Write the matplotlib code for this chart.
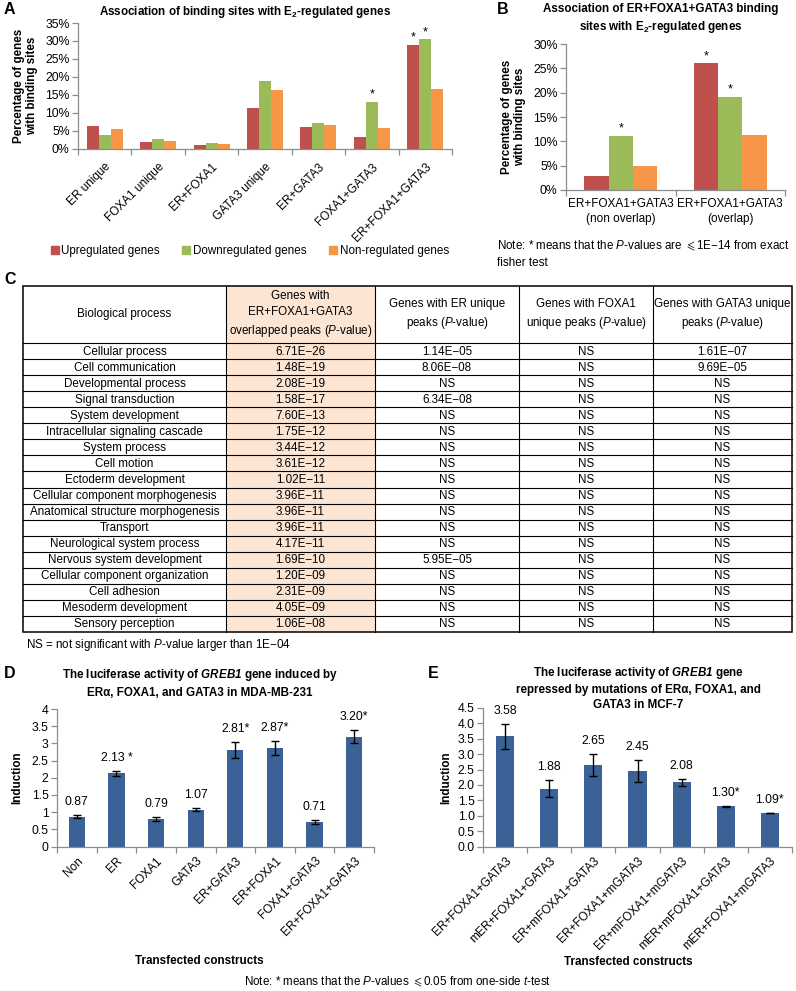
import numpy as np
import matplotlib
matplotlib.use('Agg')
import matplotlib.pyplot as plt
from matplotlib.patches import Rectangle
from matplotlib.lines import Line2D
from matplotlib.ticker import FixedLocator, NullFormatter

W, H = 796, 991
plt.rcParams['font.family'] = ['Liberation Sans', 'DejaVu Sans']
plt.rcParams['mathtext.fontset'] = 'custom'
plt.rcParams['mathtext.rm'] = 'Liberation Sans'
plt.rcParams['mathtext.it'] = 'Liberation Sans:italic'
plt.rcParams['mathtext.bf'] = 'Liberation Sans:bold'
plt.rcParams['mathtext.bfit'] = 'Liberation Sans:italic:bold'
plt.rcParams['mathtext.fallback'] = 'stixsans'

# ---- panel A data (percent)
a_groups = ['ER unique', 'FOXA1 unique', 'ER+FOXA1', 'GATA3 unique', 'ER+GATA3',
            'FOXA1+GATA3', 'ER+FOXA1+GATA3']
a_up = [6.2, 1.7, 0.9, 11.4, 6.0, 3.2, 29.0]
a_down = [3.7, 2.6, 1.6, 18.7, 7.2, 13.0, 30.4]
a_non = [5.4, 2.2, 1.3, 16.4, 6.5, 5.8, 16.5]
a_star_up = [False, False, False, False, False, False, True]
a_star_down = [False, False, False, False, False, True, True]

# ---- panel B data
b_groups = ['ER+FOXA1+GATA3\n(non overlap)', 'ER+FOXA1+GATA3\n(overlap)']
b_up = [2.8, 26.0]
b_down = [11.1, 19.1]
b_non = [5.0, 11.3]
b_star_up = [False, True]
b_star_down = [True, True]

# ---- panel C table
c_header = ['Biological process',
            'Genes with\nER+FOXA1+GATA3\noverlapped peaks ($P$-value)',
            'Genes with ER unique\npeaks ($P$-value)',
            'Genes with FOXA1\nunique peaks ($P$-value)',
            'Genes with GATA3 unique\npeaks ($P$-value)']
c_process = ['Cellular process', 'Cell communication', 'Developmental process',
             'Signal transduction', 'System development', 'Intracellular signaling cascade',
             'System process', 'Cell motion', 'Ectoderm development',
             'Cellular component morphogenesis', 'Anatomical structure morphogenesis',
             'Transport', 'Neurological system process', 'Nervous system development',
             'Cellular component organization', 'Cell adhesion', 'Mesoderm development',
             'Sensory perception']
c_overlap = ['6.71E\u221226', '1.48E\u221219', '2.08E\u221219', '1.58E\u221217', '7.60E\u221213',
             '1.75E\u221212', '3.44E\u221212', '3.61E\u221212', '1.02E\u221211', '3.96E\u221211',
             '3.96E\u221211', '3.96E\u221211', '4.17E\u221211', '1.69E\u221210', '1.20E\u221209',
             '2.31E\u221209', '4.05E\u221209', '1.06E\u221208']
c_er = ['1.14E\u221205', '8.06E\u221208', 'NS', '6.34E\u221208', 'NS', 'NS', 'NS', 'NS', 'NS',
        'NS', 'NS', 'NS', 'NS', '5.95E\u221205', 'NS', 'NS', 'NS', 'NS']
c_foxa1 = ['NS', 'NS', 'NS', 'NS', 'NS', 'NS', 'NS', 'NS', 'NS',
           'NS', 'NS', 'NS', 'NS', 'NS', 'NS', 'NS', 'NS', 'NS']
c_gata3 = ['1.61E\u221207', '9.69E\u221205', 'NS', 'NS', 'NS', 'NS', 'NS', 'NS', 'NS',
           'NS', 'NS', 'NS', 'NS', 'NS', 'NS', 'NS', 'NS', 'NS']

# ---- panel D data
d_labels = ['Non', 'ER', 'FOXA1', 'GATA3', 'ER+GATA3', 'ER+FOXA1', 'FOXA1+GATA3', 'ER+FOXA1+GATA3']
d_vals = [0.87, 2.13, 0.79, 1.07, 2.81, 2.87, 0.71, 3.20]
d_err = [0.04, 0.08, 0.06, 0.04, 0.23, 0.21, 0.06, 0.18]
d_text = ['0.87', '2.13 *', '0.79', '1.07', '2.81*', '2.87*', '0.71', '3.20*']

# ---- panel E data
e_labels = ['ER+FOXA1+GATA3', 'mER+FOXA1+GATA3', 'ER+mFOXA1+GATA3', 'ER+FOXA1+mGATA3',
            'ER+mFOXA1+mGATA3', 'mER+mFOXA1+GATA3', 'mER+FOXA1+mGATA3']
e_vals = [3.58, 1.88, 2.65, 2.45, 2.08, 1.30, 1.09]
e_err = [0.40, 0.27, 0.37, 0.35, 0.12, 0.02, 0.01]
e_text = ['3.58', '1.88', '2.65', '2.45', '2.08', '1.30*', '1.09*']

RED, GREEN, ORANGE, BLUE = '#C0504D', '#9BBB59', '#F79646', '#3A6296'
AXC = '#8C8C8C'
FS = 8.4   # general text
TS = 8.8   # y tick labels
CS = 8.5   # category labels

fig = plt.figure(figsize=(W / 100, H / 100), dpi=100)

ov = fig.add_axes([0, 0, 1, 1])
ov.set_xlim(0, W)
ov.set_ylim(H, 0)
ov.axis('off')


def px_axes(x0, y0, x1, y1):
    return fig.add_axes([x0 / W, 1 - y1 / H, (x1 - x0) / W, (y1 - y0) / H])


def excel_style(ax, n):
    for s in ['top', 'right']:
        ax.spines[s].set_visible(False)
    for s in ['left', 'bottom']:
        ax.spines[s].set_color(AXC)
        ax.spines[s].set_linewidth(0.9)
    ax.set_xlim(-0.5, n - 0.5)
    ax.xaxis.set_minor_locator(FixedLocator(np.arange(n + 1) - 0.5))
    ax.xaxis.set_minor_formatter(NullFormatter())
    ax.tick_params(axis='x', which='major', length=0, labelsize=CS)
    ax.tick_params(axis='x', which='minor', length=4, color=AXC, width=0.9)
    ax.tick_params(axis='y', length=4, color=AXC, width=0.9, labelsize=TS, pad=2)


def grouped(ax, series, colors, stars, w):
    x = np.arange(len(series[0]))
    for k, (vals, c) in enumerate(zip(series, colors)):
        xs = x + (k - 1) * w
        ax.bar(xs, vals, width=w, color=c, zorder=2)
        for xi, v, s in zip(xs, vals, stars[k]):
            if s:
                ax.annotate('*', (xi, v), xytext=(0, 1), textcoords='offset points',
                            ha='center', va='bottom', fontsize=9)


pct = lambda v, p: '%d%%' % v

# ---------------- A
axA = px_axes(78, 23, 452, 148.5)
excel_style(axA, len(a_groups))
grouped(axA, [a_up, a_down, a_non], [RED, GREEN, ORANGE],
        [a_star_up, a_star_down, [False] * 7], 0.225)
axA.set_ylim(0, 35)
axA.set_yticks(np.arange(0, 36, 5))
axA.yaxis.set_major_formatter(pct)
axA.set_xticks(np.arange(len(a_groups)))
axA.set_xticklabels(a_groups, rotation=45, ha='right', rotation_mode='anchor', fontsize=CS)
axA.tick_params(axis='x', which='major', pad=9)
axA.set_ylabel('Percentage of genes\nwith binding sites', fontsize=FS, fontweight='bold',
               labelpad=5, linespacing=1.1)
ov.text(245, 12, r'Association of binding sites with E$_{\mathbf{2}}$-regulated genes',
        ha='center', va='center', fontsize=FS, fontweight='bold')
ov.text(4, 9, 'A', fontsize=11.5, fontweight='bold', va='center')
handles = [Line2D([], [], marker='s', ls='none', color=c, markersize=5.5) for c in (RED, GREEN, ORANGE)]
fig.legend(handles, ['Upregulated genes', 'Downregulated genes', 'Non-regulated genes'],
           loc='center', bbox_to_anchor=(250 / W, 1 - 251 / H), ncol=3, frameon=False,
           fontsize=FS, handlelength=0.6, handletextpad=0.25, columnspacing=2.0)

# ---------------- B
axB = px_axes(566, 44, 785, 190)
excel_style(axB, len(b_groups))
grouped(axB, [b_up, b_down, b_non], [RED, GREEN, ORANGE],
        [b_star_up, b_star_down, [False, False]], 0.223)
axB.set_ylim(0, 30)
axB.set_yticks(np.arange(0, 31, 5))
axB.yaxis.set_major_formatter(pct)
axB.set_xticks(np.arange(len(b_groups)))
axB.set_xticklabels(b_groups, fontsize=CS, linespacing=1.3)
axB.tick_params(axis='x', which='major', pad=6)
axB.set_ylabel('Percentage of genes\nwith binding sites', fontsize=FS, fontweight='bold',
               labelpad=5, linespacing=1.1)
ov.text(661, 19, 'Association of ER+FOXA1+GATA3 binding\n'
        r'sites with E$_{\mathbf{2}}$-regulated genes', ha='center', va='center',
        fontsize=FS, fontweight='bold', linespacing=1.3)
ov.text(497, 10, 'B', fontsize=11.5, fontweight='bold', va='center')
ov.text(497, 254, 'Note: * means that the $P$-values are $\\leqslant$1E\u221214 from exact\nfisher test',
        ha='left', va='center', fontsize=FS, linespacing=1.4)

# ---------------- C table
col_edges = [23, 226, 375, 519, 653, 792]
top, hbot, tbot = 286, 343, 632
nrow = len(c_process)
rh = (tbot - hbot) / nrow
ov.add_patch(Rectangle((col_edges[1], top), col_edges[2] - col_edges[1], tbot - top,
                       facecolor='#FCE5D3', edgecolor='none', zorder=1))
ov.add_patch(Rectangle((col_edges[0], top), col_edges[-1] - col_edges[0], tbot - top,
                       facecolor='none', edgecolor='black', lw=1.1, zorder=3))
for xe in col_edges[1:-1]:
    ov.plot([xe, xe], [top, tbot], color='black', lw=0.8, zorder=3)
for i in range(nrow):
    yl = hbot + i * rh
    ov.plot([col_edges[0], col_edges[-1]], [yl, yl], color='black', lw=0.8, zorder=3)
for j, htxt in enumerate(c_header):
    ov.text((col_edges[j] + col_edges[j + 1]) / 2, (top + hbot) / 2, htxt, ha='center',
            va='center', fontsize=FS, linespacing=1.45, zorder=4)
columns = [c_process, c_overlap, c_er, c_foxa1, c_gata3]
for j, col in enumerate(columns):
    for i, t in enumerate(col):
        ov.text((col_edges[j] + col_edges[j + 1]) / 2, hbot + (i + 0.5) * rh + 0.5, t,
                ha='center', va='center', fontsize=FS, zorder=4)
ov.text(4, 279, 'C', fontsize=11.5, fontweight='bold', va='center')
ov.text(26, 645, 'NS = not significant with $P$-value larger than 1E\u221204',
        ha='left', va='center', fontsize=FS)


# ---------------- D and E
def luciferase(ax, labels, vals, errs, texts, ymax, step, fmt):
    n = len(labels)
    excel_style(ax, n)
    x = np.arange(n)
    ax.bar(x, vals, width=0.41, color=BLUE, zorder=2)
    ax.errorbar(x, vals, yerr=errs, fmt='none', ecolor='black', elinewidth=1.0,
                capsize=3, capthick=1.0, zorder=3)
    for xi, v, e, t in zip(x, vals, errs, texts):
        ax.annotate(t, (xi, v + e), xytext=(0, 5), textcoords='offset points',
                    ha='center', va='bottom', fontsize=8.8)
    ax.set_ylim(0, ymax)
    ax.set_yticks(np.arange(0, ymax + 1e-6, step))
    ax.yaxis.set_major_formatter(fmt)
    ax.set_xticks(x)
    ax.set_xticklabels(labels, rotation=45, ha='right', rotation_mode='anchor', fontsize=CS)
    ax.tick_params(axis='x', which='major', pad=6)
    ax.set_ylabel('Induction', fontsize=FS, fontweight='bold', labelpad=6)
    ax.set_xlabel('Transfected constructs', fontsize=FS, fontweight='bold')


axD = px_axes(57, 709, 374, 846.5)
luciferase(axD, d_labels, d_vals, d_err, d_text, 4, 0.5, lambda v, p: '%g' % v)
axD.xaxis.set_label_coords(0.45, -0.79)
ov.text(200, 683, r'The luciferase activity of $\mathbfit{GREB1}$ gene induced by' + '\n'
        'ER\u03b1, FOXA1, and GATA3 in MDA-MB-231', ha='center', va='center',
        fontsize=FS, fontweight='bold', linespacing=1.45)
ov.text(4, 674, 'D', fontsize=11.5, fontweight='bold', va='center')

axE = px_axes(483, 708, 792, 846.5)
luciferase(axE, e_labels, e_vals, e_err, e_text, 4.5, 0.5, lambda v, p: '%.1f' % v)
axE.set_ylabel('Induction', fontsize=FS, fontweight='bold', labelpad=4)
axE.xaxis.set_label_coords(0.47, -0.79)
ov.text(638, 688, r'The luciferase activity of $\mathbfit{GREB1}$ gene' + '\n'
        'repressed by mutations of ER\u03b1, FOXA1, and\nGATA3 in MCF-7', ha='center',
        va='center', fontsize=FS, fontweight='bold', linespacing=1.3)
ov.text(428, 673, 'E', fontsize=11.5, fontweight='bold', va='center')

ov.text(398, 982, 'Note: * means that the $P$-values $\\leqslant$0.05 from one-side $t$-test',
        ha='center', va='center', fontsize=FS)

fig.savefig('out.png', dpi=100)
